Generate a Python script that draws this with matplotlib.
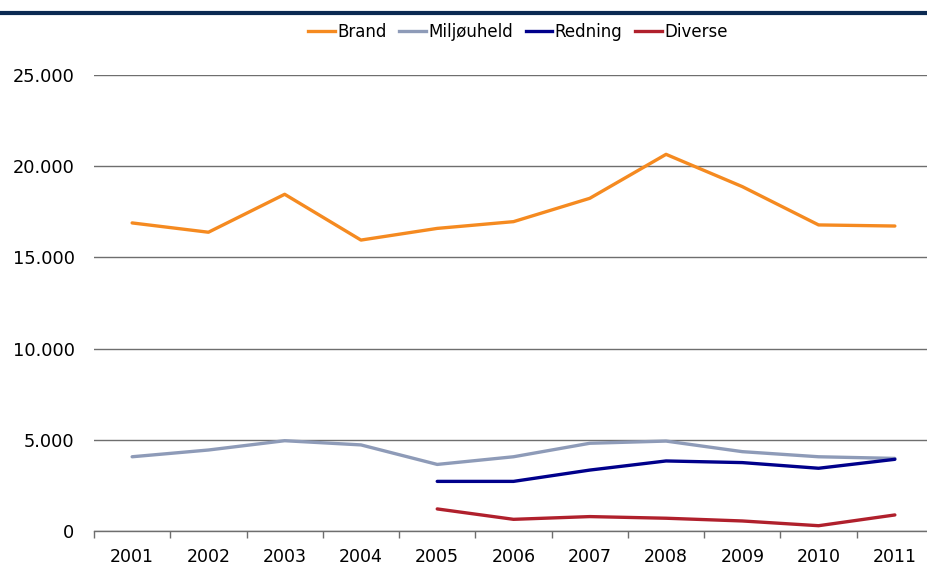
import matplotlib
matplotlib.use("Agg")
import matplotlib.pyplot as plt
from matplotlib.ticker import FuncFormatter, FixedLocator
from matplotlib.lines import Line2D

years = ["2001", "2002", "2003", "2004", "2005", "2006", "2007", "2008", "2009", "2010", "2011"]
brand = [16890, 16380, 18460, 15950, 16590, 16960, 18240, 20650, 18880, 16780, 16720]
miljouheld = [4070, 4440, 4950, 4720, 3650, 4070, 4810, 4930, 4350, 4070, 3980]
redning_years = ["2005", "2006", "2007", "2008", "2009", "2010", "2011"]
redning = [2720, 2720, 3340, 3840, 3750, 3440, 3930]
diverse_years = ["2005", "2006", "2007", "2008", "2009", "2010", "2011"]
diverse = [1210, 640, 790, 700, 550, 290, 880]
y_ticks = [0, 5000, 10000, 15000, 20000, 25000]

colors = {"Brand": "#F58A20", "Miljøuheld": "#8E9BB8", "Redning": "#00008B", "Diverse": "#B0202C"}

W, H = 927, 569
fig = plt.figure(figsize=(W / 100, H / 100), dpi=100)
ax = fig.add_axes([94 / W, 1 - 531 / H, (933 - 94) / W, (531 - 75) / H])

xpos = {y: i for i, y in enumerate(years)}
lw = 2.4
ax.plot([xpos[y] for y in years], brand, color=colors["Brand"], lw=lw, solid_capstyle="round", zorder=3)
ax.plot([xpos[y] for y in years], miljouheld, color=colors["Miljøuheld"], lw=lw, solid_capstyle="round", zorder=3)
ax.plot([xpos[y] for y in redning_years], redning, color=colors["Redning"], lw=lw, solid_capstyle="round", zorder=4)
ax.plot([xpos[y] for y in diverse_years], diverse, color=colors["Diverse"], lw=lw, solid_capstyle="round", zorder=4)

ax.set_xlim(-0.5, len(years) - 0.5)
ax.set_ylim(0, 25000)

ax.yaxis.set_major_locator(FixedLocator(y_ticks))
ax.yaxis.set_major_formatter(FuncFormatter(lambda v, p: f"{int(v):,}".replace(",", ".")))
ax.grid(axis="y", color="#6e6e6e", lw=1.0, zorder=1)
ax.set_axisbelow(True)

ax.xaxis.set_major_locator(FixedLocator([i - 0.5 for i in range(len(years) + 1)]))
ax.xaxis.set_major_formatter(FuncFormatter(lambda v, p: ""))
ax.xaxis.set_minor_locator(FixedLocator(list(range(len(years)))))
ax.set_xticklabels(years, minor=True)
ax.tick_params(axis="x", which="major", length=5, width=1, color="#6e6e6e", direction="out")
ax.tick_params(axis="x", which="minor", length=0, pad=12, labelsize=12.5)
ax.tick_params(axis="y", length=0, pad=14, labelsize=12.8)

for s in ["top", "right", "left"]:
    ax.spines[s].set_visible(False)
ax.spines["bottom"].set_color("#6e6e6e")
ax.spines["bottom"].set_linewidth(1.0)

# top navy rule
fig.add_artist(Line2D([0, 1], [1 - 13 / H, 1 - 13 / H], transform=fig.transFigure, color="#0B2A52", lw=3.0))

handles = [Line2D([0], [0], color=colors[k], lw=lw) for k in colors]
fig.legend(handles, list(colors.keys()), loc="center", bbox_to_anchor=(518 / W, 1 - 32 / H),
           ncol=4, frameon=False, fontsize=12, handlelength=1.6, handletextpad=0.15,
           columnspacing=0.75, borderpad=0)

fig.savefig("out.png", dpi=100)
